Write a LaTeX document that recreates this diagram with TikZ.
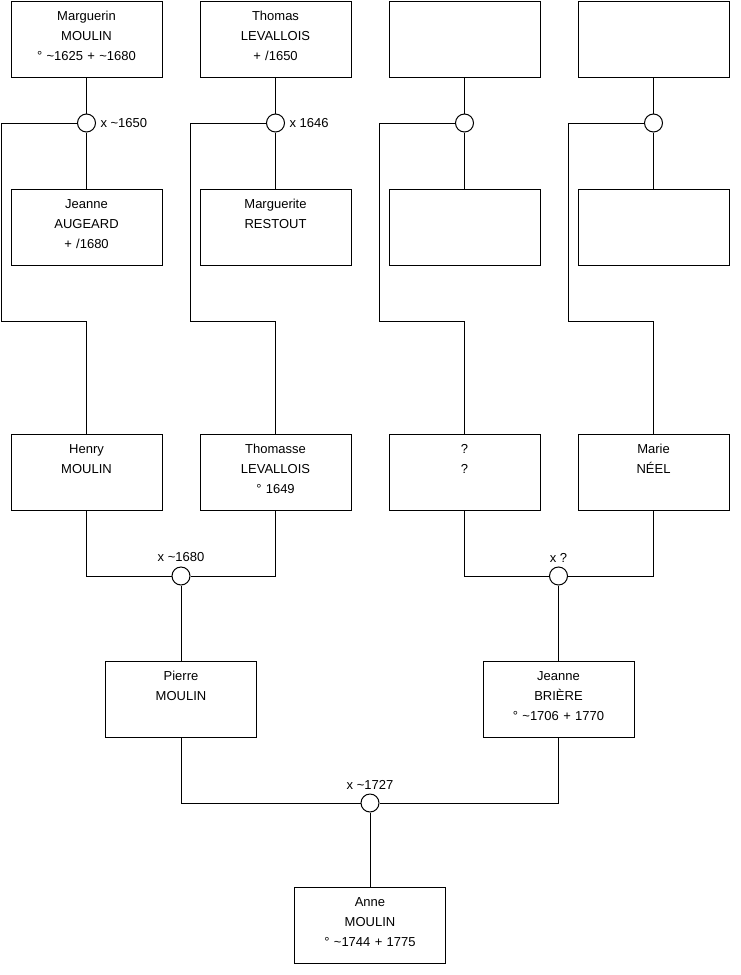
\documentclass[tikz,border=0pt]{standalone}
\usepackage{fontspec}
\setmainfont{Liberation Sans}
\usetikzlibrary{positioning}

\tikzset{
    person/.style={draw, rectangle, anchor=north, minimum width=113.25pt, minimum height=57pt,
        text width=105pt, align=center, inner ysep=0pt, text height=14.6pt, text depth=42.4pt,
        font=\fontsize{9.75pt}{15pt}\selectfont},
    union/.style={draw, circle, minimum size=13.5pt, inner sep=0pt},
    wedding/.style={font=\fontsize{9.75pt}{11pt}\selectfont, inner sep=3pt}
}

\begin{document}
\begin{tikzpicture}[x=0.75pt, y=-0.75pt, line width=0.75pt]
            \useasboundingbox (0,0) rectangle (740,975);
            % 人物
            \node[person] (margmoulin) at (86.5,1) {Marguerin\\MOULIN\\° \textasciitilde1625 + \textasciitilde1680};
            \node[person] (thomaslev) at (275.5,1) {Thomas\\LEVALLOIS\\+ /1650};
            \node[person] (pere3) at (464.5,1) {};
            \node[person] (pere4) at (653.5,1) {};
            \node[person] (jeanneaug) at (86.5,189) {Jeanne\\AUGEARD\\+ /1680};
            \node[person] (margrest) at (275.5,189) {Marguerite\\RESTOUT};
            \node[person] (mere3) at (464.5,189) {};
            \node[person] (mere4) at (653.5,189) {};
            \node[person] (henry) at (86.5,434) {Henry\\MOULIN};
            \node[person] (thomasse) at (275.5,434) {Thomasse\\LEVALLOIS\\° 1649};
            \node[person] (inconnu) at (464.5,434) {?\\?};
            \node[person] (marie) at (653.5,434) {Marie\\NÉEL};
            \node[person] (pierre) at (181,661) {Pierre\\MOULIN};
            \node[person] (jeanneb) at (558.5,661) {Jeanne\\BRIÈRE\\° \textasciitilde1706 + 1770};
            \node[person] (anne) at (370,887) {Anne\\MOULIN\\° \textasciitilde1744 + 1775};
            % 婚姻
            \node[union] (m1) at (86.5,123) {};
            \node[union] (m2) at (275.5,123) {};
            \node[union] (m3) at (464.5,123) {};
            \node[union] (m4) at (653.5,123) {};
            \node[union] (m5) at (181,576) {};
            \node[union] (m6) at (558.5,576) {};
            \node[union] (m7) at (370,803) {};
            \coordinate (c1) at (1,321);
            \coordinate (c2) at (190,321);
            \coordinate (c3) at (379,321);
            \coordinate (c4) at (568,321);
            % 连接
            \draw (margmoulin) -- (m1);
            \draw (m1) -- (jeanneaug);
            \draw (thomaslev) -- (m2);
            \draw (m2) -- (margrest);
            \draw (pere3) -- (m3);
            \draw (m3) -- (mere3);
            \draw (pere4) -- (m4);
            \draw (m4) -- (mere4);
            \draw (m1.west) -| (c1) -| (henry.north);
            \draw (m2.west) -| (c2) -| (thomasse.north);
            \draw (m3.west) -| (c3) -| (inconnu.north);
            \draw (m4.west) -| (c4) -| (marie.north);
            \draw (henry.south) |- (m5.west);
            \draw (thomasse.south) |- (m5.east);
            \draw (inconnu.south) |- (m6.west);
            \draw (marie.south) |- (m6.east);
            \draw (m5) -- (pierre);
            \draw (m6) -- (jeanneb);
            \draw (pierre.south) |- (m7.west);
            \draw (jeanneb.south) |- (m7.east);
            \draw (m7) -- (anne);
            % 标注
            \node[wedding, anchor=west] (d1) at (m1.east) {x \textasciitilde1650};
            \node[wedding, anchor=west] (d2) at (m2.east) {x 1646};
            \node[wedding, anchor=south] (d5) at (m5.north) {x \textasciitilde1680};
            \node[wedding, anchor=south] (d6) at (m6.north) {x ?};
            \node[wedding, anchor=south] (d7) at (m7.north) {x \textasciitilde1727};
        \end{tikzpicture}
\end{document}
